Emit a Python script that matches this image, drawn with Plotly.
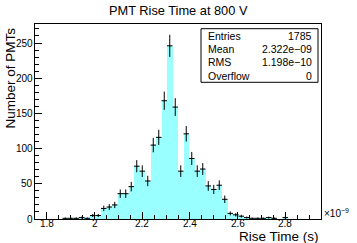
import numpy as np
import plotly.graph_objects as go

# Histogram definition (ROOT-like TH1: n_bins, x_min, x_max), x in units of 1e-9 s
n_bins = 52
x_min = 1.75
x_max = 2.95
counts = [0, 0, 0, 0, 0, 1, 1, 1, 2, 1,
          5, 5, 15, 17, 20, 36, 36, 46, 75, 68,
          54, 105, 116, 168, 246, 159, 68, 121, 86, 68,
          71, 47, 42, 48, 28, 8, 6, 4, 2, 1,
          1, 1, 2, 1, 0, 2, 0, 0, 0, 0,
          0, 0]
stats_labels = ["Entries", "Mean", "RMS", "Overflow"]
stats_values = ["1785", "2.322e\u221209", "1.198e\u221210", "0"]
x_ticks = [1.8, 2.0, 2.2, 2.4, 2.6, 2.8]
x_tick_text = ["1.8", "2", "2.2", "2.4", "2.6", "2.8"]
y_ticks = [0, 50, 100, 150, 200, 250]
y_tick_text = ["0", "50", "100", "150", "200", "250"]

edges = np.linspace(x_min, x_max, n_bins + 1)
centers = 0.5 * (edges[:-1] + edges[1:])
width = edges[1] - edges[0]
counts = np.array(counts, dtype=float)
nz = counts > 0

font = "Liberation Sans, Arial, Helvetica, sans-serif"

W, H = 357, 243
pl, pr, pt, pb = 35, 321, 24, 219

def fx(p):
    return (p - pl) / (pr - pl)

def fy(p):
    return (pb - p) / (pb - pt)

fig = go.Figure()
fig.add_trace(go.Bar(
    x=centers[nz], y=counts[nz], width=width,
    marker=dict(color="#00ffff", line=dict(width=0),
                pattern=dict(shape=".", fgcolor="#00ffff", bgcolor="white",
                             size=2, solidity=0.45, fillmode="replace")),
    showlegend=False, hoverinfo="skip"))
fig.add_trace(go.Scatter(
    x=centers[nz], y=counts[nz], mode="markers",
    marker=dict(size=1, color="black"),
    error_y=dict(type="data", array=np.sqrt(counts[nz]), color="black", thickness=1, width=0),
    error_x=dict(type="constant", value=width / 2, color="black", thickness=1, width=0),
    showlegend=False, hoverinfo="skip"))

fig.update_layout(
    width=W, height=H,
    margin=dict(l=pl, r=W - pr, t=pt, b=H - pb, autoexpand=False),
    paper_bgcolor="white", plot_bgcolor="white",
    bargap=0, font=dict(family=font, size=10, color="black"),
    showlegend=False,
    xaxis=dict(range=[x_min, x_max], tickvals=x_ticks, showticklabels=False,
               ticks="inside", ticklen=7, tickcolor="black", automargin=False,
               minor=dict(ticks="inside", dtick=0.05, tick0=1.75, ticklen=4, tickcolor="black"),
               showline=True, linecolor="black", linewidth=1, mirror=True,
               showgrid=False, zeroline=False),
    yaxis=dict(range=[0, 277], tickvals=y_ticks, showticklabels=False,
               ticks="inside", ticklen=7, tickcolor="black", automargin=False,
               minor=dict(ticks="inside", dtick=10, ticklen=4, tickcolor="black"),
               showline=True, linecolor="black", linewidth=1, mirror=True,
               showgrid=False, zeroline=False),
)

ann = []
for v, t in zip(x_ticks, x_tick_text):
    ann.append(dict(text=t, x=v, y=fy(224), xref="x", yref="paper", showarrow=False,
                    xanchor="center", yanchor="middle", font=dict(size=10)))
for v, t in zip(y_ticks, y_tick_text):
    ann.append(dict(text=t, x=fx(34.5), y=v, xref="paper", yref="y", showarrow=False,
                    xanchor="right", yanchor="middle", font=dict(size=10)))
ann.append(dict(text="PMT Rise Time at 800 V", x=fx(178.5), y=fy(10),
                xref="paper", yref="paper", showarrow=False, font=dict(size=12.8),
                xanchor="center", yanchor="middle"))
ann.append(dict(text="Rise Time (s)", x=fx(321), y=fy(236.5), xref="paper", yref="paper",
                showarrow=False, font=dict(size=13.5), xanchor="right", yanchor="middle"))
ann.append(dict(text="Number of PMTs", x=fx(10), y=fy(26), xref="paper", yref="paper",
                showarrow=False, font=dict(size=13.5), textangle=-90,
                xanchor="center", yanchor="top"))
ann.append(dict(text="\u00d710<sup>\u22129</sup>", x=fx(322), y=fy(213), xref="paper", yref="paper",
                showarrow=False, font=dict(size=10), xanchor="left", yanchor="middle"))

# stats box
px0, px1 = 201, 318
py0, py1 = 28.7, 82.3
fig.add_shape(type="rect", xref="paper", yref="paper",
              x0=fx(px0), x1=fx(px1), y0=fy(py1), y1=fy(py0),
              line=dict(color="black", width=1), fillcolor="white", layer="above")
rows_y = [35.5, 49, 62.5, 76]
for lab, val, ry in zip(stats_labels, stats_values, rows_y):
    ann.append(dict(text=lab, x=fx(206), y=fy(ry), xref="paper", yref="paper",
                    showarrow=False, xanchor="left", yanchor="middle", font=dict(size=10.5)))
    ann.append(dict(text=val, x=fx(314), y=fy(ry), xref="paper", yref="paper",
                    showarrow=False, xanchor="right", yanchor="middle", font=dict(size=10.5)))
fig.update_layout(annotations=ann)

fig.write_html("out.html", config={"displayModeBar": False},
               post_script="document.body.style.margin='0';document.body.style.overflow='hidden';")
